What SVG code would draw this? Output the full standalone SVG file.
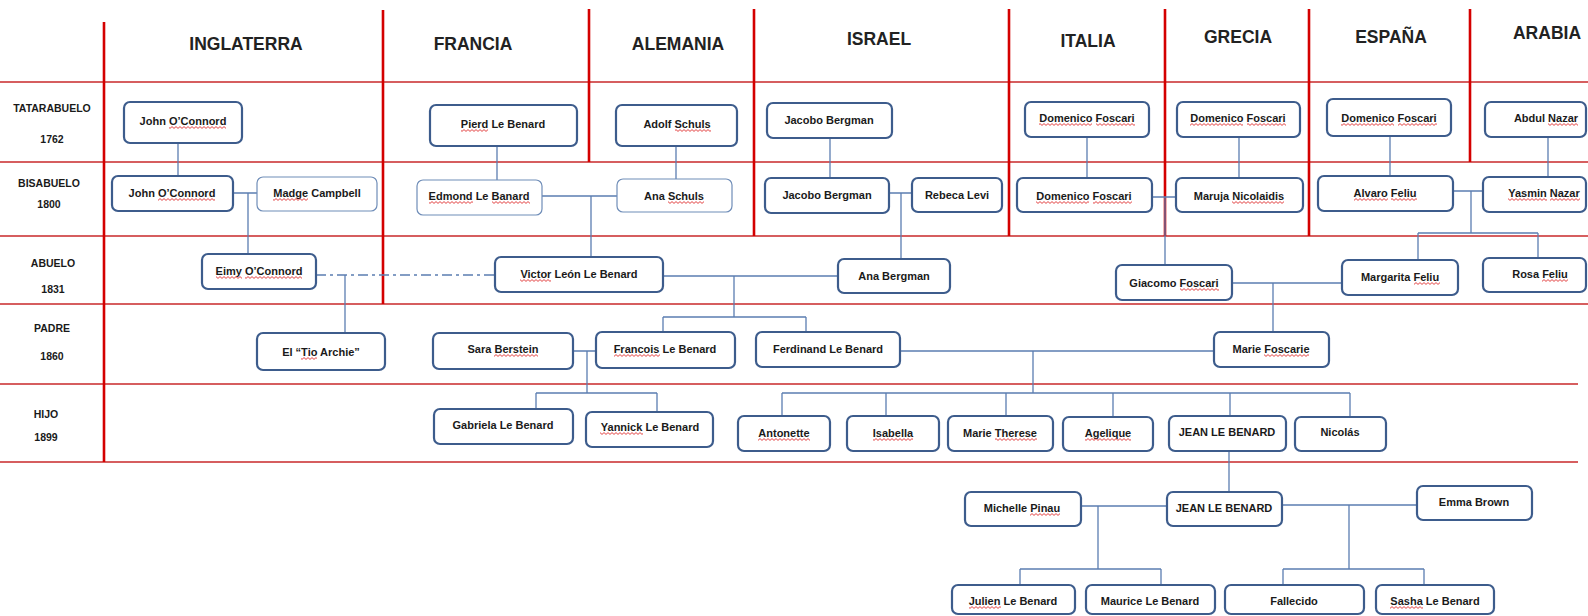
<svg xmlns="http://www.w3.org/2000/svg" width="1588" height="616" viewBox="0 0 1588 616">
<defs>
<pattern id="wv" width="4" height="3" patternUnits="userSpaceOnUse"><path d="M0,0.6L2,2.4L4,0.6" fill="none" stroke="#e03030" stroke-width="0.9"/></pattern>
</defs>
<style>
.box{fill:#fff;stroke:#3d5c8c;stroke-width:2.2}
.thin{fill:#fff;stroke:#6f8db8;stroke-width:1.2}
.t{font-family:"Liberation Sans",Arial,sans-serif;font-weight:bold;font-size:11px;fill:#1a1a1a;text-anchor:middle}
.h{font-size:17.5px;fill:#222}
.lbl{font-size:10.5px}
.rv{stroke:#d40000;stroke-width:2.6}
.rh{stroke:#c8282a;stroke-width:1.3}
.c{stroke:#5b7db1;stroke-width:1.3;fill:none}
.dd{stroke-dasharray:10 4 3 4}
.sq{fill:url(#wv)}
</style>
<rect width="1588" height="616" fill="#fff"/>
<g id="grid">
<line class="rh" x1="0" y1="82" x2="1588" y2="82"/>
<line class="rh" x1="0" y1="162" x2="1588" y2="162"/>
<line class="rh" x1="0" y1="236" x2="1588" y2="236"/>
<line class="rh" x1="0" y1="304" x2="1588" y2="304"/>
<line class="rh" x1="0" y1="384" x2="1578" y2="384"/>
<line class="rh" x1="0" y1="462" x2="1578" y2="462"/>
<line class="rv" x1="104" y1="22" x2="104" y2="462"/>
<line class="rv" x1="383" y1="10" x2="383" y2="304"/>
<line class="rv" x1="589" y1="9" x2="589" y2="162"/>
<line class="rv" x1="754" y1="9" x2="754" y2="236"/>
<line class="rv" x1="1009" y1="9" x2="1009" y2="236"/>
<line class="rv" x1="1165" y1="9" x2="1165" y2="236"/>
<line class="rv" x1="1309" y1="9" x2="1309" y2="236"/>
<line class="rv" x1="1470" y1="9" x2="1470" y2="162"/>
</g>
<g id="headers" class="t h">
<text x="246" y="50">INGLATERRA</text>
<text x="473" y="50">FRANCIA</text>
<text x="678" y="50">ALEMANIA</text>
<text x="879" y="45">ISRAEL</text>
<text x="1088" y="47">ITALIA</text>
<text x="1238" y="43">GRECIA</text>
<text x="1391" y="43">ESPAÑA</text>
<text x="1547" y="39">ARABIA</text>
</g>
<g id="rowlabels" class="t lbl">
<text x="52" y="112">TATARABUELO</text>
<text x="52" y="143">1762</text>
<text x="49" y="187">BISABUELO</text>
<text x="49" y="208">1800</text>
<text x="53" y="267">ABUELO</text>
<text x="53" y="293">1831</text>
<text x="52" y="332">PADRE</text>
<text x="52" y="360">1860</text>
<text x="46" y="418">HIJO</text>
<text x="46" y="441">1899</text>
</g>
<g id="connectors" class="c">
<path d="M178,143V176"/>
<path d="M233,193H257M248,193V254"/>
<path class="dd" d="M316,275H495"/>
<path d="M345,275V333"/>
<path d="M497,146V180"/>
<path d="M676,146V179"/>
<path d="M542,196H617M591,196V257"/>
<path d="M663,276H838M734,276V317M663,317H806M663,317V332M806,317V332"/>
<path d="M830,138V178"/>
<path d="M889,193H912M901,193V259"/>
<path d="M1087,137V178"/>
<path d="M1152,197H1176M1165,197V265"/>
<path d="M1239,137V178"/>
<path d="M1390,136V176"/>
<path d="M1548,137V177"/>
<path d="M1453,191H1483M1471,191V233M1418,233H1538M1418,233V260M1538,233V258"/>
<path d="M1232,283H1342M1273,283V332"/>
<path d="M573,351H596M587,351V393M536,393H657M536,393V409M657,393V412"/>
<path d="M900,351H1214M1033,351V393M782,393H1350M782,393V416M886,393V416M1006,393V416M1113,393V417M1230,393V416M1350,393V417"/>
<path d="M1229,451V492"/>
<path d="M1081,506H1167M1098,506V569M1020,569H1161M1020,569V585M1161,569V585"/>
<path d="M1282,505H1417M1349,505V569M1283,569H1424M1283,569V585M1424,569V585"/>
</g>
<g id="n_john1"><rect class="box" x="124" y="102" width="118" height="41" rx="6"/><text class="t" x="183" y="125">John O’Connord</text><rect class="sq" x="169" y="126" width="57" height="3"/></g>
<g id="n_john2"><rect class="box" x="112" y="176" width="121" height="35" rx="6"/><text class="t" x="172" y="197">John O’Connord</text><rect class="sq" x="158" y="198" width="57" height="3"/></g>
<g id="n_madge"><rect class="thin" x="257" y="177" width="120" height="34" rx="6"/><text class="t" x="317" y="197">Madge Campbell</text><rect class="sq" x="273" y="198" width="35" height="3"/></g>
<g id="n_eimy"><rect class="box" x="202" y="254" width="114" height="35" rx="6"/><text class="t" x="259" y="275">Eimy O’Connord</text><rect class="sq" x="216" y="276" width="26" height="3"/><rect class="sq" x="245" y="276" width="57" height="3"/></g>
<g id="n_archie"><rect class="box" x="257" y="333" width="128" height="37" rx="6"/><text class="t" x="321" y="356">El “Tio Archie”</text><rect class="sq" x="301" y="357" width="16" height="3"/></g>
<g id="n_pierd"><rect class="box" x="430" y="105" width="147" height="41" rx="6"/><text class="t" x="503" y="128">Pierd Le Benard</text><rect class="sq" x="461" y="129" width="27" height="3"/></g>
<g id="n_adolf"><rect class="box" x="616" y="105" width="121" height="41" rx="6"/><text class="t" x="677" y="128">Adolf Schuls</text><rect class="sq" x="675" y="129" width="36" height="3"/></g>
<g id="n_edmond"><rect class="thin" x="417" y="180" width="125" height="35" rx="6"/><text class="t" x="479" y="200">Edmond Le Banard</text><rect class="sq" x="429" y="201" width="44" height="3"/><rect class="sq" x="492" y="201" width="38" height="3"/></g>
<g id="n_anaschuls"><rect class="thin" x="617" y="179" width="115" height="33" rx="6"/><text class="t" x="674" y="200">Ana Schuls</text><rect class="sq" x="668" y="201" width="36" height="3"/></g>
<g id="n_victor"><rect class="box" x="495" y="257" width="168" height="35" rx="6"/><text class="t" x="579" y="278">Victor León Le Benard</text><rect class="sq" x="520" y="279" width="31" height="3"/></g>
<g id="n_jacobo1"><rect class="box" x="767" y="103" width="125" height="35" rx="6"/><text class="t" x="829" y="124">Jacobo Bergman</text></g>
<g id="n_jacobo2"><rect class="box" x="765" y="178" width="124" height="35" rx="6"/><text class="t" x="827" y="199">Jacobo Bergman</text></g>
<g id="n_rebeca"><rect class="box" x="912" y="178" width="90" height="34" rx="6"/><text class="t" x="957" y="199">Rebeca Levi</text></g>
<g id="n_anabergman"><rect class="box" x="838" y="259" width="112" height="34" rx="6"/><text class="t" x="894" y="280">Ana Bergman</text></g>
<g id="n_dom_it1"><rect class="box" x="1025" y="102" width="124" height="35" rx="6"/><text class="t" x="1087" y="122">Domenico Foscari</text><rect class="sq" x="1039" y="123" width="53" height="3"/><rect class="sq" x="1096" y="123" width="39" height="3"/></g>
<g id="n_dom_it2"><rect class="box" x="1017" y="178" width="135" height="34" rx="6"/><text class="t" x="1084" y="200">Domenico Foscari</text><rect class="sq" x="1036" y="201" width="53" height="3"/><rect class="sq" x="1093" y="201" width="39" height="3"/></g>
<g id="n_dom_gr"><rect class="box" x="1177" y="102" width="123" height="35" rx="6"/><text class="t" x="1238" y="122">Domenico Foscari</text><rect class="sq" x="1190" y="123" width="53" height="3"/><rect class="sq" x="1247" y="123" width="39" height="3"/></g>
<g id="n_maruja"><rect class="box" x="1176" y="178" width="127" height="34" rx="6"/><text class="t" x="1239" y="200">Maruja Nicolaidis</text><rect class="sq" x="1232" y="201" width="52" height="3"/></g>
<g id="n_dom_es"><rect class="box" x="1327" y="99" width="124" height="37" rx="6"/><text class="t" x="1389" y="122">Domenico Foscari</text><rect class="sq" x="1341" y="123" width="53" height="3"/><rect class="sq" x="1398" y="123" width="39" height="3"/></g>
<g id="n_alvaro"><rect class="box" x="1318" y="176" width="135" height="35" rx="6"/><text class="t" x="1385" y="197">Alvaro Feliu</text><rect class="sq" x="1354" y="198" width="34" height="3"/><rect class="sq" x="1391" y="198" width="26" height="3"/></g>
<g id="n_abdul"><rect class="box" x="1485" y="102" width="101" height="35" rx="6"/><text class="t" x="1546" y="122">Abdul Nazar</text><rect class="sq" x="1548" y="123" width="30" height="3"/></g>
<g id="n_yasmin"><rect class="box" x="1483" y="177" width="103" height="35" rx="6"/><text class="t" x="1544" y="197">Yasmin Nazar</text><rect class="sq" x="1508" y="198" width="39" height="3"/><rect class="sq" x="1550" y="198" width="30" height="3"/></g>
<g id="n_giacomo"><rect class="box" x="1116" y="265" width="116" height="35" rx="6"/><text class="t" x="1174" y="287">Giacomo Foscari</text><rect class="sq" x="1180" y="288" width="39" height="3"/></g>
<g id="n_margarita"><rect class="box" x="1342" y="260" width="116" height="35" rx="6"/><text class="t" x="1400" y="281">Margarita Feliu</text><rect class="sq" x="1414" y="282" width="26" height="3"/></g>
<g id="n_rosa"><rect class="box" x="1483" y="258" width="103" height="34" rx="6"/><text class="t" x="1540" y="278">Rosa Feliu</text><rect class="sq" x="1542" y="279" width="26" height="3"/></g>
<g id="n_sara"><rect class="box" x="433" y="333" width="140" height="36" rx="6"/><text class="t" x="503" y="353">Sara Berstein</text><rect class="sq" x="494" y="354" width="44" height="3"/></g>
<g id="n_francois"><rect class="box" x="596" y="332" width="139" height="36" rx="6"/><text class="t" x="665" y="353">Francois Le Benard</text><rect class="sq" x="614" y="354" width="46" height="3"/></g>
<g id="n_ferdinand"><rect class="box" x="756" y="332" width="144" height="35" rx="6"/><text class="t" x="828" y="353">Ferdinand Le Benard</text></g>
<g id="n_marie"><rect class="box" x="1214" y="332" width="115" height="35" rx="6"/><text class="t" x="1271" y="353">Marie Foscarie</text><rect class="sq" x="1264" y="354" width="45" height="3"/></g>
<g id="n_gabriela"><rect class="box" x="434" y="409" width="139" height="35" rx="6"/><text class="t" x="503" y="429">Gabriela Le Benard</text></g>
<g id="n_yannick"><rect class="box" x="586" y="412" width="127" height="35" rx="6"/><text class="t" x="650" y="431">Yannick Le Benard</text><rect class="sq" x="600" y="432" width="43" height="3"/></g>
<g id="n_antonette"><rect class="box" x="738" y="416" width="92" height="35" rx="6"/><text class="t" x="784" y="437">Antonette</text><rect class="sq" x="758" y="438" width="52" height="3"/></g>
<g id="n_isabella"><rect class="box" x="847" y="416" width="92" height="35" rx="6"/><text class="t" x="893" y="437">Isabella</text><rect class="sq" x="873" y="438" width="40" height="3"/></g>
<g id="n_mtherese"><rect class="box" x="948" y="416" width="105" height="35" rx="6"/><text class="t" x="1000" y="437">Marie Therese</text><rect class="sq" x="995" y="438" width="42" height="3"/></g>
<g id="n_agelique"><rect class="box" x="1063" y="417" width="90" height="34" rx="6"/><text class="t" x="1108" y="437">Agelique</text><rect class="sq" x="1085" y="438" width="46" height="3"/></g>
<g id="n_jean1"><rect class="box" x="1169" y="416" width="117" height="35" rx="6"/><text class="t" x="1227" y="436">JEAN LE BENARD</text></g>
<g id="n_nicolas"><rect class="box" x="1295" y="417" width="91" height="34" rx="6"/><text class="t" x="1340" y="436">Nicolás</text></g>
<g id="n_michelle"><rect class="box" x="965" y="492" width="116" height="34" rx="6"/><text class="t" x="1022" y="512">Michelle Pinau</text><rect class="sq" x="1030" y="513" width="30" height="3"/></g>
<g id="n_jean2"><rect class="box" x="1167" y="492" width="115" height="34" rx="6"/><text class="t" x="1224" y="512">JEAN LE BENARD</text></g>
<g id="n_emma"><rect class="box" x="1417" y="486" width="115" height="34" rx="6"/><text class="t" x="1474" y="506">Emma Brown</text></g>
<g id="n_julien"><rect class="box" x="952" y="585" width="123" height="29" rx="6"/><text class="t" x="1013" y="605">Julien Le Benard</text><rect class="sq" x="969" y="606" width="32" height="3"/></g>
<g id="n_maurice"><rect class="box" x="1086" y="585" width="129" height="29" rx="6"/><text class="t" x="1150" y="605">Maurice Le Benard</text></g>
<g id="n_fallecido"><rect class="box" x="1225" y="585" width="139" height="29" rx="6"/><text class="t" x="1294" y="605">Fallecido</text></g>
<g id="n_sasha"><rect class="box" x="1376" y="585" width="118" height="29" rx="6"/><text class="t" x="1435" y="605">Sasha Le Benard</text><rect class="sq" x="1390" y="606" width="33" height="3"/></g>
</svg>
